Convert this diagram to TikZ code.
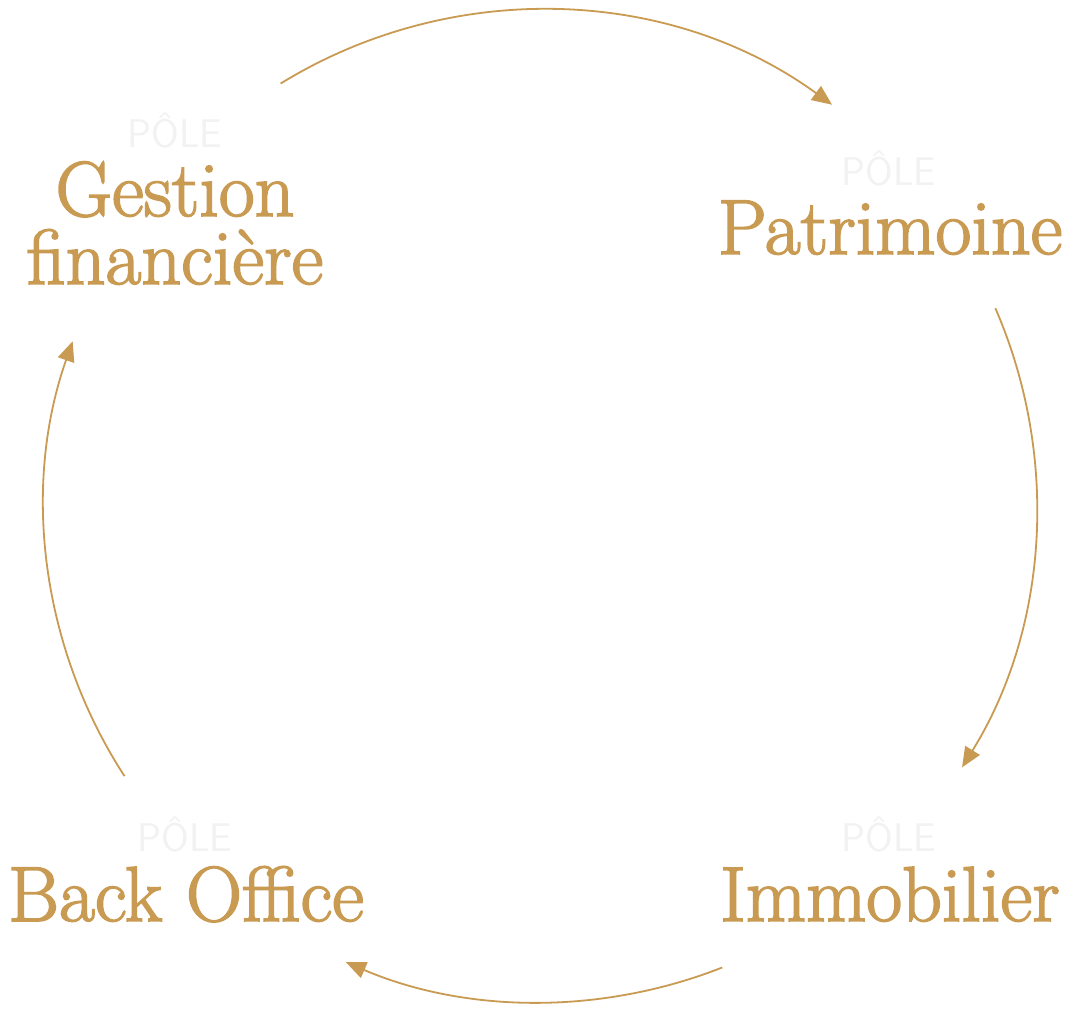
\documentclass[tikz,border=0pt]{standalone}
\usepackage{fontspec}
\newfontfamily\titlefont[FakeBold=2]{Latin Modern Roman}
\usetikzlibrary{arrows.meta}
\definecolor{gold}{HTML}{C99B52}
\definecolor{palegray}{HTML}{F2F2F2}
\begin{document}
\begin{tikzpicture}[x=1pt,y=1pt,
  title/.style={inner sep=0pt,anchor=base,text=gold,font=\titlefont\fontsize{78}{68}\selectfont,text depth=0pt,text height=0.69em},
  title2/.style={inner sep=0pt,anchor=base,text=gold,font=\titlefont\fontsize{78}{68}\selectfont,align=center},
  pole/.style={inner sep=0pt,anchor=base,text=palegray,font=\sffamily\fontsize{40}{40}\selectfont,text depth=0pt},
  flow/.style={draw=gold,line width=1.8pt,-{Triangle[length=20pt,width=17pt]}}]
\useasboundingbox[fill=white] (0,0) rectangle (1086,1014);
% centre of the cycle
\coordinate (C) at (540.5,508);
% labels
\node[pole] (p1) at (175,1014-148) {PÔLE};
\node[title2] (gf) at (175,1014-284) {Gestion\\financière};
\node[pole] (p2) at (889,1014-186) {PÔLE};
\node[title] (pat) at (890,1014-254) {Patrimoine};
\node[pole] (p3) at (889,1014-852) {PÔLE};
\node[title] (imm) at (890,1014-921) {Immobilier};
\node[pole] (p4) at (185,1014-852) {PÔLE};
\node[title] (bo) at (186,1014-921) {Back Office};
% arc end points
\coordinate (a1) at ([shift={(121.6:496)}]C);
\coordinate (a2) at ([shift={(23.5:496)}]C);
\coordinate (a3) at ([shift={(-68.5:496)}]C);
\coordinate (a4) at ([shift={(213:496)}]C);
% connectors
\draw[flow] (a1) arc[start angle=121.6,end angle=54,radius=496];
\draw[flow] (a2) arc[start angle=23.5,end angle=-31.8,radius=496];
\draw[flow] (a3) arc[start angle=-68.5,end angle=-113.1,radius=496];
\draw[flow] (a4) arc[start angle=213,end angle=160.6,radius=496];
\end{tikzpicture}
\end{document}
